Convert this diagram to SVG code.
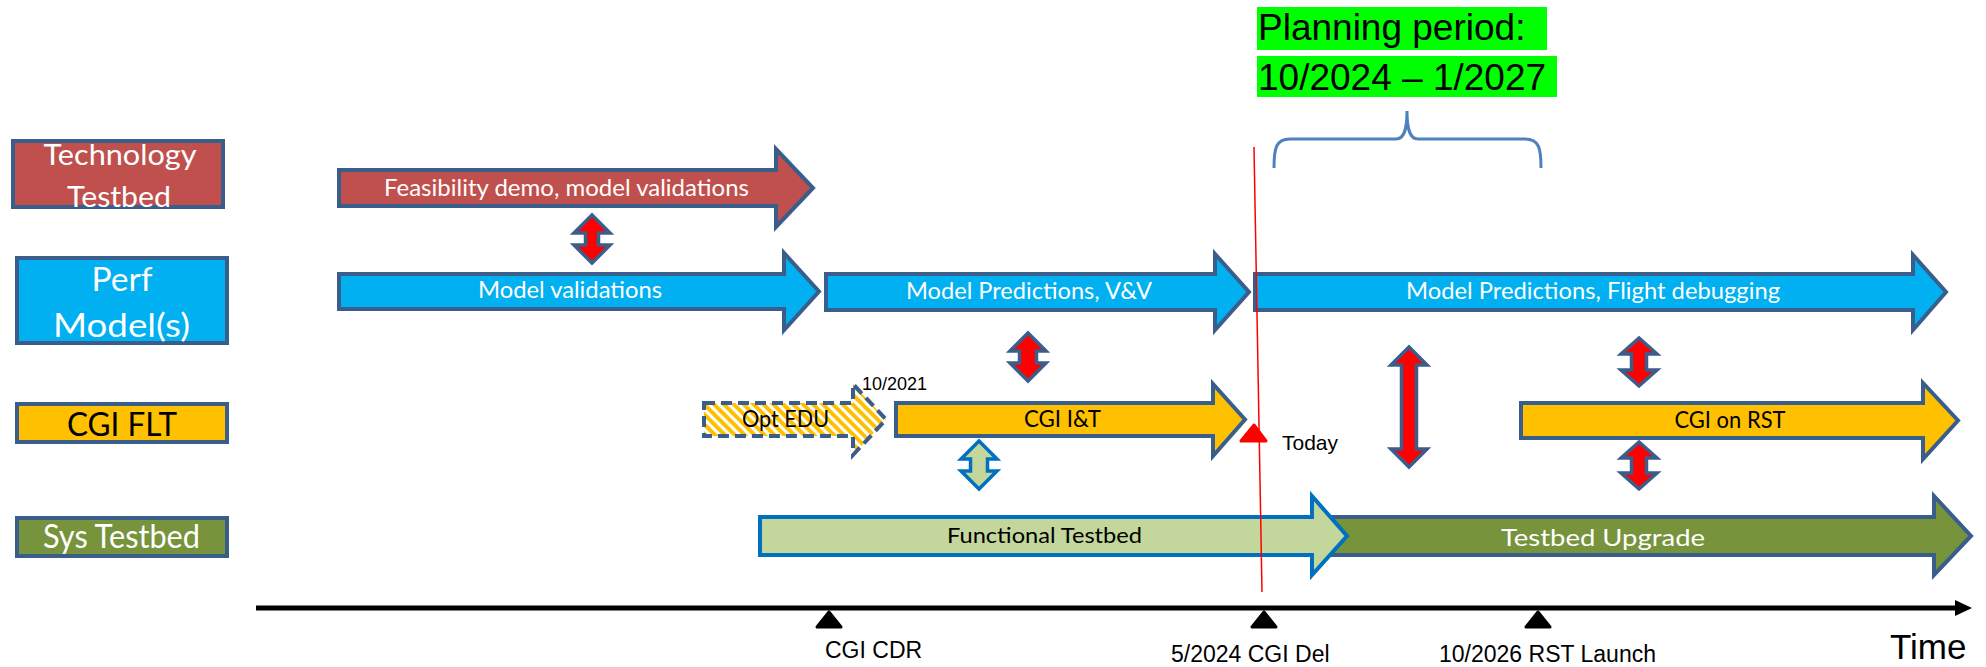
<svg xmlns="http://www.w3.org/2000/svg" width="1986" height="667" viewBox="0 0 1986 667">
  <defs>
    <style>
      .lbl { stroke: #3A5E8C; stroke-width: 4; }
      .blk { stroke: #3A5E8C; stroke-width: 4; stroke-linejoin: miter; }
      .cal { font-family: Lato, "Open Sans", sans-serif; text-anchor: middle; }
      .ari { font-family: "Liberation Sans", Arial, sans-serif; fill: #000; }
      .w { fill: #fff; }
      .k { fill: #000; }
      .dbl { fill: #FF0000; stroke: #3A5E8C; stroke-width: 3.5; stroke-linejoin: miter; }
      .tick { fill: #000; stroke: #000; stroke-width: 3; stroke-linejoin: round; }
    </style>
    <pattern id="stripes" patternUnits="userSpaceOnUse" width="7" height="7" patternTransform="rotate(-45)">
      <rect width="7" height="7" fill="#FFFFFF"/>
      <rect width="4" height="7" fill="#FFC000"/>
    </pattern>
  </defs>

  <!-- row labels -->
  <g id="label-technology">
    <rect class="lbl" x="13" y="141" width="210" height="66" fill="#C0504D"/>
    <text class="cal w" x="120" y="165" font-size="29" textLength="153" lengthAdjust="spacingAndGlyphs">Technology</text>
    <text class="cal w" x="119" y="207" font-size="29" textLength="104" lengthAdjust="spacingAndGlyphs">Testbed</text>
  </g>
  <g id="label-perf">
    <rect class="lbl" x="17" y="258" width="210" height="85" fill="#00B0F0"/>
    <text class="cal w" x="122" y="291" font-size="33" textLength="61" lengthAdjust="spacingAndGlyphs">Perf</text>
    <text class="cal w" x="121.5" y="337" font-size="33" textLength="137" lengthAdjust="spacingAndGlyphs">Model(s)</text>
  </g>
  <g id="label-cgi">
    <rect class="lbl" x="17" y="404" width="210" height="38" fill="#FFC000"/>
    <text class="cal k" x="122" y="436" font-size="32" textLength="110" lengthAdjust="spacingAndGlyphs">CGI FLT</text>
  </g>
  <g id="label-sys">
    <rect class="lbl" x="17" y="518" width="210" height="38" fill="#77933C"/>
    <text class="cal w" x="121.5" y="548" font-size="32" textLength="157" lengthAdjust="spacingAndGlyphs">Sys Testbed</text>
  </g>

  <!-- planning period callout -->
  <g id="planning">
    <rect x="1257" y="7" width="290" height="43" fill="#00FF00"/>
    <rect x="1257" y="56" width="300" height="41" fill="#00FF00"/>
    <text class="ari" x="1258" y="40" font-size="37">Planning period:</text>
    <text class="ari" x="1258" y="90" font-size="37">10/2024 – 1/2027</text>
    <path d="M1274,168 C1274,148 1276,139 1290,139 H1396 C1404,139 1407,130 1407,111 C1407,130 1410,139 1418,139 H1525 C1539,139 1541,148 1541,168" fill="none" stroke="#4F81BD" stroke-width="3"/>
  </g>

  <!-- technology testbed row -->
  <g id="bar-feasibility">
    <path class="blk" d="M339,170 H776 V149 L813,188 L776,227 V206 H339 Z" fill="#C0504D"/>
    <text class="cal w" x="566.5" y="196" font-size="23" textLength="365" lengthAdjust="spacingAndGlyphs">Feasibility demo, model validations</text>
  </g>

  <!-- performance model row -->
  <g id="bar-model-validations">
    <path class="blk" d="M339,274 H784 V253 L819,291.5 L784,330 V309 H339 Z" fill="#00B0F0"/>
    <text class="cal w" x="570" y="298" font-size="23" textLength="184" lengthAdjust="spacingAndGlyphs">Model validations</text>
  </g>
  <g id="bar-model-vv">
    <path class="blk" d="M826,274 H1215 V254 L1249,292 L1215,330 V310 H826 Z" fill="#00B0F0"/>
    <text class="cal w" x="1029" y="299" font-size="23" textLength="246" lengthAdjust="spacingAndGlyphs">Model Predictions, V&amp;V</text>
  </g>
  <g id="bar-model-flight">
    <path class="blk" d="M1255,274 H1913 V255 L1946,292 L1913,330 V310 H1255 Z" fill="#00B0F0"/>
    <text class="cal w" x="1593" y="299" font-size="23" textLength="374" lengthAdjust="spacingAndGlyphs">Model Predictions, Flight debugging</text>
  </g>

  <!-- CGI flight row -->
  <g id="bar-opt-edu">
    <path d="M704,403 H853 V384 L886,419.5 L853,455 V436 H704 Z" fill="url(#stripes)" stroke="#3A5E8C" stroke-width="4" stroke-dasharray="11 6"/>
    <text class="cal k" x="785.5" y="427" font-size="23" textLength="87" lengthAdjust="spacingAndGlyphs">Opt EDU</text>
    <text class="ari" x="862" y="390" font-size="18">10/2021</text>
  </g>
  <g id="bar-cgi-it">
    <path class="blk" d="M896,403 H1213 V384 L1245,419.5 L1213,456 V436 H896 Z" fill="#FFC000"/>
    <text class="cal k" x="1062.5" y="427" font-size="23" textLength="77" lengthAdjust="spacingAndGlyphs">CGI I&amp;T</text>
  </g>
  <g id="bar-cgi-rst">
    <path class="blk" d="M1521,403 H1923 V383 L1958,420.5 L1923,459 V438 H1521 Z" fill="#FFC000"/>
    <text class="cal k" x="1730" y="428" font-size="23" textLength="111" lengthAdjust="spacingAndGlyphs">CGI on RST</text>
  </g>

  <!-- system testbed row -->
  <g id="bar-testbed-upgrade">
    <path class="blk" d="M1300,517 H1934 V496 L1971,536 L1934,575 V555 H1300 Z" fill="#77933C"/>
    <text class="cal w" x="1603" y="546" font-size="24" textLength="204" lengthAdjust="spacingAndGlyphs">Testbed Upgrade</text>
  </g>
  <g id="bar-functional">
    <path d="M760,517 H1312 V496 L1347,536 L1312,575 V555 H760 Z" fill="#C3D69B" stroke="#0070C0" stroke-width="4"/>
    <text class="cal k" x="1044.5" y="543" font-size="21" textLength="195" lengthAdjust="spacingAndGlyphs">Functional Testbed</text>
  </g>

  <!-- interface links between rows -->
  <g id="connectors">
    <path class="dbl" d="M592,215 L610,233 H598.5 V245 H610 L592,263 L574,245 H585.5 V233 H574 Z"/>
    <path class="dbl" d="M1028,333 L1046,351 H1036.5 V363 H1046 L1028,381 L1010,363 H1019.5 V351 H1010 Z"/>
    <path d="M979,441 L997,459 H987.5 V471 H997 L979,489 L961,471 H970.5 V459 H961 Z" fill="#C3D69B" stroke="#0070C0" stroke-width="3.5"/>
    <path class="dbl" d="M1409,347 L1427,365 H1416.5 V449 H1427 L1409,467 L1391,449 H1401.5 V365 H1391 Z"/>
    <path class="dbl" d="M1639,338 L1657,354 H1646.5 V370 H1657 L1639,386 L1621,370 H1631.5 V354 H1621 Z"/>
    <path class="dbl" d="M1639,442 L1657,458 H1646.5 V473 H1657 L1639,489 L1621,473 H1631.5 V458 H1621 Z"/>
  </g>

  <!-- time axis -->
  <g id="axis">
    <line x1="256" y1="608" x2="1960" y2="608" stroke="#000" stroke-width="5"/>
    <polygon points="1955,600 1972,608 1955,616" fill="#000"/>
    <polygon class="tick" points="829,612 817,627 841,627"/>
    <polygon class="tick" points="1264,612 1252,627 1276,627"/>
    <polygon class="tick" points="1538,612 1526,627 1550,627"/>
    <text class="ari" x="825" y="658" font-size="23">CGI CDR</text>
    <text class="ari" x="1171" y="662" font-size="23">5/2024 CGI Del</text>
    <text class="ari" x="1439" y="662" font-size="23">10/2026 RST Launch</text>
    <text class="ari" x="1890" y="659" font-size="35">Time</text>
  </g>

  <!-- current date marker -->
  <g id="today">
    <line x1="1254" y1="147" x2="1262" y2="592" stroke="#FF0000" stroke-width="1.5"/>
    <polygon points="1254,425 1241,441 1266,441" fill="#FF0000" stroke="#FF0000" stroke-width="3" stroke-linejoin="round"/>
    <text class="ari" x="1282" y="450" font-size="21">Today</text>
  </g>
</svg>
